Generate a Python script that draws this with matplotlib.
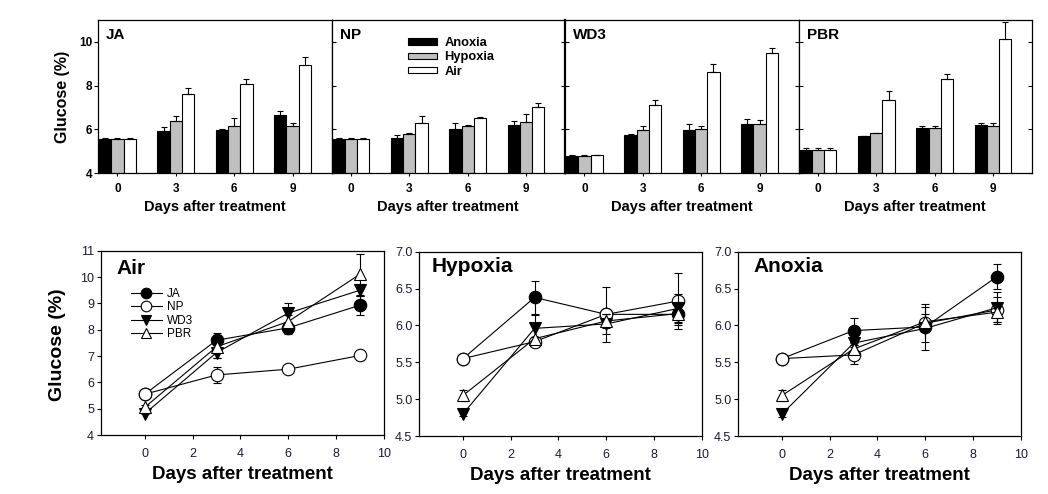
import matplotlib.pyplot as plt

plt.rcParams['font.family'] = ['Liberation Sans', 'DejaVu Sans']

days = [0, 3, 6, 9]
cultivars = ['JA', 'NP', 'WD3', 'PBR']
treatments = ['Anoxia', 'Hypoxia', 'Air']

# glucose (%) means and standard errors per cultivar / atmosphere
ja_anoxia = [5.55, 5.93, 5.98, 6.66]
ja_anoxia_err = [0.03, 0.17, 0.03, 0.17]
ja_hypoxia = [5.55, 6.38, 6.15, 6.15]
ja_hypoxia_err = [0.03, 0.22, 0.37, 0.14]
ja_air = [5.55, 7.60, 8.07, 8.93]
ja_air_err = [0.03, 0.27, 0.24, 0.36]

np_anoxia = [5.55, 5.60, 6.03, 6.21]
np_anoxia_err = [0.05, 0.13, 0.26, 0.17]
np_hypoxia = [5.55, 5.78, 6.15, 6.33]
np_hypoxia_err = [0.04, 0.04, 0.05, 0.38]
np_air = [5.55, 6.28, 6.50, 7.02]
np_air_err = [0.04, 0.31, 0.08, 0.18]

wd3_anoxia = [4.80, 5.76, 5.96, 6.24]
wd3_anoxia_err = [0.04, 0.02, 0.29, 0.22]
wd3_hypoxia = [4.80, 5.96, 6.02, 6.23]
wd3_hypoxia_err = [0.03, 0.18, 0.13, 0.19]
wd3_air = [4.81, 7.13, 8.63, 9.50]
wd3_air_err = [0.03, 0.20, 0.37, 0.22]

pbr_anoxia = [5.05, 5.68, 6.05, 6.18]
pbr_anoxia_err = [0.08, 0.03, 0.10, 0.13]
pbr_hypoxia = [5.05, 5.82, 6.06, 6.16]
pbr_hypoxia_err = [0.08, 0.02, 0.10, 0.13]
pbr_air = [5.05, 7.35, 8.31, 10.11]
pbr_air_err = [0.08, 0.42, 0.24, 0.78]

means = {
    'JA': {'Anoxia': ja_anoxia, 'Hypoxia': ja_hypoxia, 'Air': ja_air},
    'NP': {'Anoxia': np_anoxia, 'Hypoxia': np_hypoxia, 'Air': np_air},
    'WD3': {'Anoxia': wd3_anoxia, 'Hypoxia': wd3_hypoxia, 'Air': wd3_air},
    'PBR': {'Anoxia': pbr_anoxia, 'Hypoxia': pbr_hypoxia, 'Air': pbr_air},
}
errs = {
    'JA': {'Anoxia': ja_anoxia_err, 'Hypoxia': ja_hypoxia_err, 'Air': ja_air_err},
    'NP': {'Anoxia': np_anoxia_err, 'Hypoxia': np_hypoxia_err, 'Air': np_air_err},
    'WD3': {'Anoxia': wd3_anoxia_err, 'Hypoxia': wd3_hypoxia_err, 'Air': wd3_air_err},
    'PBR': {'Anoxia': pbr_anoxia_err, 'Hypoxia': pbr_hypoxia_err, 'Air': pbr_air_err},
}

bar_colors = {'Anoxia': 'black', 'Hypoxia': '#c0c0c0', 'Air': 'white'}
line_style = {
    'JA': dict(marker='o', mfc='black'),
    'NP': dict(marker='o', mfc='white'),
    'WD3': dict(marker='v', mfc='black'),
    'PBR': dict(marker='^', mfc='white'),
}

W, H = 1048, 494
fig = plt.figure(figsize=(W / 100, H / 100), dpi=100)


def box(l, t, r, b):
    return [l / W, 1 - b / H, (r - l) / W, (b - t) / H]


# ---- top row: bar charts per cultivar ----
bw = 0.63
top_left = [98, 331.5, 565, 798.5]
for i, cv in enumerate(cultivars):
    ax = fig.add_axes(box(top_left[i], 20, top_left[i] + 233.5, 173))
    for k, tr in enumerate(treatments):
        xs = [d + (k - 1) * bw for d in days]
        vals = means[cv][tr]
        e = errs[cv][tr]
        ax.bar(xs, vals, width=bw, bottom=0, color=bar_colors[tr],
               edgecolor='black', linewidth=0.8, label=tr, zorder=2)
        ax.errorbar(xs, vals, yerr=[[0] * 4, e], fmt='none', ecolor='black',
                    elinewidth=0.8, capsize=2.2, capthick=0.8, zorder=3)
    ax.set_xlim(-1, 11)
    ax.set_ylim(4, 11)
    ax.set_xticks(days)
    ax.set_yticks([4, 6, 8, 10])
    ax.tick_params(axis='x', length=2, pad=5, labelsize=8.5)
    for lab in ax.get_xticklabels():
        lab.set_fontweight('bold')
    if i == 0:
        ax.tick_params(axis='y', direction='out', length=3, pad=1, labelsize=8.5,
                       right=True)
        for lab in ax.get_yticklabels():
            lab.set_fontweight('bold')
    else:
        ax.tick_params(axis='y', direction='in', length=3, left=True, right=True,
                       labelleft=False)
    for s in ax.spines.values():
        s.set_linewidth(0.9)
    if cv == 'WD3':
        ax.spines['left'].set_linewidth(1.6)
    ax.text(0.035, 0.9, cv, transform=ax.transAxes, fontsize=11,
            fontweight='bold', va='center', ha='left')
    ax.text(0.5, -0.222, 'Days after treatment', transform=ax.transAxes,
            fontsize=10.5, fontweight='bold', ha='center', va='center')
    if cv == 'NP':
        ax.legend(loc='upper left', bbox_to_anchor=(0.30, 0.93), frameon=False,
                  borderpad=0, handlelength=2.25, handleheight=0.4,
                  handletextpad=0.55, labelspacing=0.18,
                  prop={'size': 9.3, 'weight': 'bold'})

fig.text(63 / W, 1 - 97 / H, 'Glucose (%)', rotation=90, fontsize=11.5,
         fontweight='bold', ha='center', va='center')

# ---- bottom row: line charts per atmosphere ----
bottom_boxes = {
    'Air': (101, 250.7, 384, 435),
    'Hypoxia': (419.3, 251.7, 701.7, 436),
    'Anoxia': (738.3, 251.7, 1020.7, 436),
}
title_pos = {'Air': (0.053, 0.906), 'Hypoxia': (0.044, 0.919), 'Anoxia': (0.053, 0.92)}
for tr in ['Air', 'Hypoxia', 'Anoxia']:
    ax = fig.add_axes(box(*bottom_boxes[tr]))
    for cv in cultivars:
        ax.errorbar(days, means[cv][tr], yerr=errs[cv][tr], fmt='none',
                    ecolor='black', elinewidth=0.8, capsize=3, capthick=0.8)
        ax.plot(days, means[cv][tr], color='black', lw=0.8, mec='black',
                mew=0.8, ms=9, label=cv, **line_style[cv])
    ax.set_xlim(-1.83, 10)
    ax.set_xticks([0, 2, 4, 6, 8, 10])
    if tr == 'Air':
        ax.set_ylim(4, 11)
        ax.set_yticks(range(4, 12))
        ax.legend(loc='upper left', bbox_to_anchor=(0.085, 0.83), frameon=False,
                  borderpad=0, handlelength=2.6, handletextpad=0.45,
                  labelspacing=0.12, fontsize=8.5, markerscale=0.85)
    else:
        ax.set_ylim(4.5, 7.0)
        ax.set_yticks([4.5, 5.0, 5.5, 6.0, 6.5, 7.0])
        ax.set_yticklabels([f'{v:.1f}' for v in [4.5, 5.0, 5.5, 6.0, 6.5, 7.0]])
    ax.tick_params(axis='y', length=3, pad=2, labelsize=9, labelcolor='#1a1a3a')
    ax.tick_params(axis='x', length=3, pad=6, labelsize=9, labelcolor='#1a1a3a')
    for s in ax.spines.values():
        s.set_linewidth(0.9)
    tx, ty = title_pos[tr]
    ax.text(tx, ty, tr, transform=ax.transAxes, fontsize=15, fontweight='bold',
            ha='left', va='center')
    ax.text(0.5, -0.217, 'Days after treatment', transform=ax.transAxes,
            fontsize=13.5, fontweight='bold', ha='center', va='center')

fig.text(58 / W, 1 - 345 / H, 'Glucose (%)', rotation=90, fontsize=14,
         fontweight='bold', ha='center', va='center')

fig.savefig('out.png', dpi=100)
